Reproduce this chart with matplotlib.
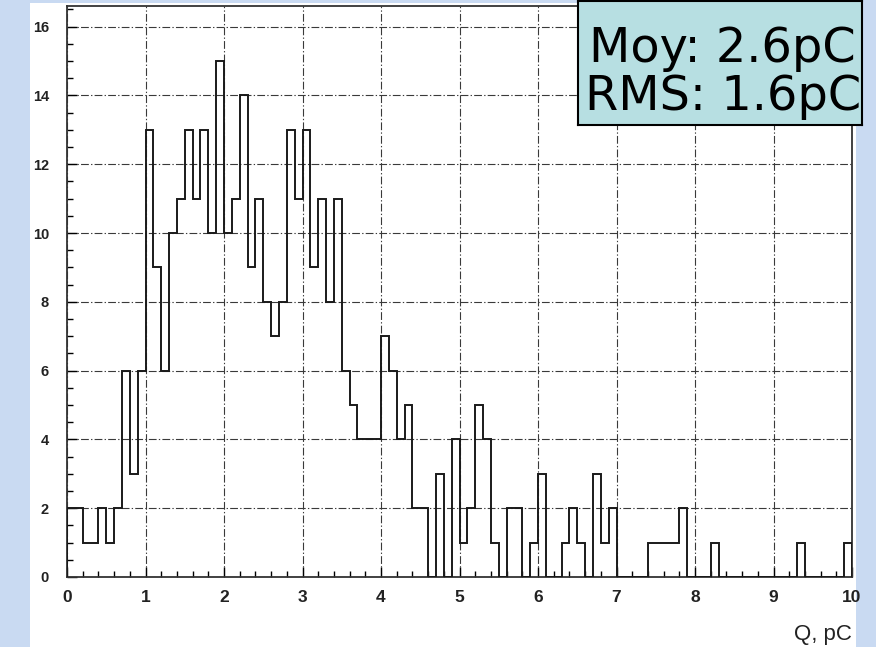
import numpy as np
import matplotlib
matplotlib.use("Agg")
import matplotlib.pyplot as plt
from matplotlib.patches import Rectangle
from matplotlib.ticker import MultipleLocator

# Charge spectrum: counts per 0.1 pC bin, 0 to 10 pC
q_min, q_max, bin_width = 0.0, 10.0, 0.1
counts = [
    2, 2, 1, 1, 2, 1, 2, 6, 3, 6,          # 0.0 - 0.9
    13, 9, 6, 10, 11, 13, 11, 13, 10, 15,  # 1.0 - 1.9
    10, 11, 14, 9, 11, 8, 7, 8, 13, 11,    # 2.0 - 2.9
    13, 9, 11, 8, 11, 6, 5, 4, 4, 4,       # 3.0 - 3.9
    7, 6, 4, 5, 2, 2, 0, 3, 0, 4,          # 4.0 - 4.9
    1, 2, 5, 4, 1, 0, 2, 2, 0, 1,          # 5.0 - 5.9
    3, 0, 0, 1, 2, 1, 0, 3, 1, 2,          # 6.0 - 6.9
    0, 0, 0, 0, 1, 1, 1, 1, 2, 0,          # 7.0 - 7.9
    0, 0, 1, 0, 0, 0, 0, 0, 0, 0,          # 8.0 - 8.9
    0, 0, 0, 1, 0, 0, 0, 0, 0, 1,          # 9.0 - 9.9
]
x_ticks = [0, 1, 2, 3, 4, 5, 6, 7, 8, 9, 10]
y_ticks = [0, 2, 4, 6, 8, 10, 12, 14, 16]
x_label = "Q, pC"
stats_text = "Moy: 2.6pC\nRMS: 1.6pC"

W, H, DPI = 876, 647, 100
fig = plt.figure(figsize=(W / DPI, H / DPI), dpi=DPI)
fig.patch.set_facecolor("#c9daf2")

def fx(px):
    return px / W

def fy(py):
    return 1 - py / H

# white page behind the plot
fig.patches.append(Rectangle((fx(30), 0), fx(856) - fx(30), fy(3),
                             transform=fig.transFigure, facecolor="white",
                             edgecolor="none", zorder=-5))

ax_l, ax_r, ax_t, ax_b = 67, 852, 6, 577
ax = fig.add_axes([fx(ax_l), fy(ax_b), fx(ax_r - ax_l), (ax_b - ax_t) / H])
ax.set_zorder(1)
ax.set_facecolor("white")

edges = np.linspace(q_min, q_max, len(counts) + 1)
ax.stairs(counts, edges, color="#1a1a1a", linewidth=1.4, baseline=0, zorder=3)

ax.set_xlim(q_min, q_max)
ax.set_ylim(0, 16.6)
ax.set_xticks(x_ticks)
ax.set_xticklabels([str(v) for v in x_ticks])
ax.set_yticks(y_ticks)
ax.set_yticklabels([str(v) for v in y_ticks])
ax.xaxis.set_minor_locator(MultipleLocator(0.2))
ax.yaxis.set_minor_locator(MultipleLocator(0.5))

ax.grid(True, which="major", color="#3a3a3a", linewidth=0.8,
        linestyle=(0, (7, 2, 1.2, 2)), zorder=1)

ax.tick_params(axis="x", which="major", direction="in", length=7, width=1,
               pad=9, labelsize=12.5)
ax.tick_params(axis="x", which="minor", direction="in", length=4, width=1)
ax.tick_params(axis="y", which="major", direction="in", length=7, width=1,
               pad=13, labelsize=10.5)
ax.tick_params(axis="y", which="minor", direction="in", length=4.5, width=1)
for lab in ax.get_xticklabels() + ax.get_yticklabels():
    lab.set_fontfamily("Liberation Sans")
    lab.set_fontweight("bold")
    lab.set_color("#222222")

for side in ["left", "right", "top", "bottom"]:
    ax.spines[side].set_linewidth(1.3)
    ax.spines[side].set_color("#333333")

fig.text(fx(852), fy(640), x_label, ha="right", va="baseline",
         fontsize=16, family="Liberation Sans", color="#222222")

# statistics box in the upper right corner
bx0, bx1, by0, by1 = 578, 862, 1, 125
stats_ax = fig.add_axes([fx(bx0), fy(by1), fx(bx1 - bx0), (by1 - by0) / H])
stats_ax.set_zorder(5)
stats_ax.set_facecolor("#b7dfe2")
stats_ax.set_xticks([])
stats_ax.set_yticks([])
for side in stats_ax.spines.values():
    side.set_linewidth(1.5)
    side.set_color("black")
stats_ax.text(0.51, 0.42, stats_text, transform=stats_ax.transAxes,
              ha="center", va="center", multialignment="center",
              fontsize=34.5, family="DejaVu Sans", color="black",
              linespacing=1.03)

fig.savefig("out.png", dpi=DPI, facecolor=fig.get_facecolor())
